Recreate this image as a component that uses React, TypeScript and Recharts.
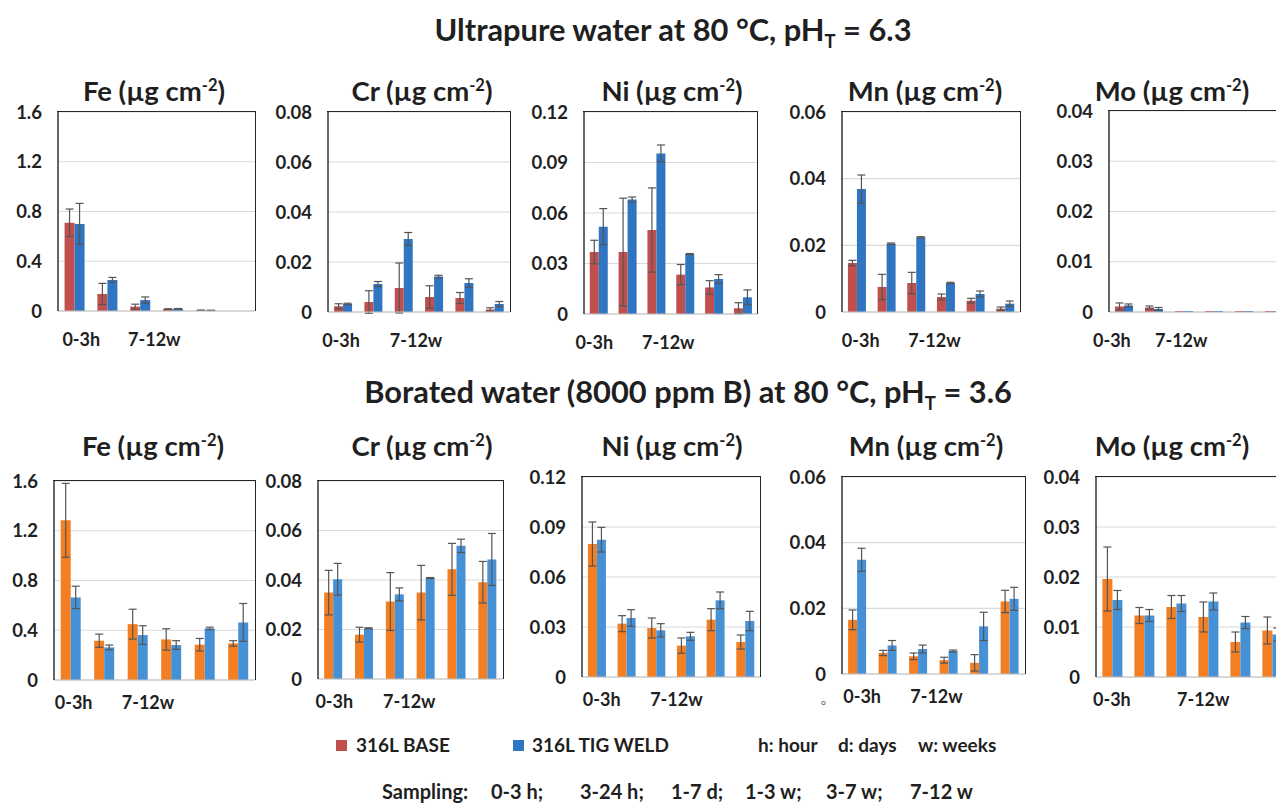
import { Bar, BarChart, CartesianGrid, ErrorBar, XAxis, YAxis } from 'recharts';

const categories = ['0-3 h', '3-24 h', '1-7 d', '1-3 w', '3-7 w', '7-12 w'];
// Excel only had room for two of the labels
const tickLabels = ['0-3h', '', '7-12w', '', '', ''];

// ultrapure water at 80 C, pH 6.3
const upFeBase = [0.71, 0.137, 0.035, 0.015, 0.006, 0];
const upFeBaseErr = [0.11, 0.085, 0.02, 0.003, 0.001, 0];
const upFeWeld = [0.7, 0.25, 0.088, 0.018, 0.005, 0];
const upFeWeldErr = [0.165, 0.02, 0.025, 0.002, 0.001, 0];

const upCrBase = [0.0023, 0.004, 0.0096, 0.006, 0.0056, 0.001];
const upCrBaseErr = [0.001, 0.0045, 0.01, 0.0045, 0.0022, 0.0007];
const upCrWeld = [0.0032, 0.0112, 0.0292, 0.0142, 0.0116, 0.0032];
const upCrWeldErr = [0.0003, 0.001, 0.0026, 0.0005, 0.0017, 0.001];

const upNiBase = [0.0368, 0.0368, 0.0499, 0.0234, 0.0158, 0.0034];
const upNiBaseErr = [0.007, 0.032, 0.025, 0.006, 0.004, 0.0033];
const upNiWeld = [0.0519, 0.068, 0.0954, 0.0356, 0.0208, 0.0099];
const upNiWeldErr = [0.0107, 0.0015, 0.005, 0.0003, 0.0026, 0.0044];

const upMnBase = [0.0147, 0.0075, 0.0087, 0.0045, 0.0034, 0.001];
const upMnBaseErr = [0.0008, 0.0038, 0.0032, 0.0009, 0.0007, 0.0005];
const upMnWeld = [0.0369, 0.0205, 0.0224, 0.0087, 0.0054, 0.0025];
const upMnWeldErr = [0.0042, 0.0002, 0.0002, 0.0002, 0.0009, 0.0008];

const upMoBase = [0.0011, 0.0009, 0.0002, 0.0002, 0.0002, 0.0002];
const upMoBaseErr = [0.0007, 0.0003, 0, 0, 0, 0];
const upMoWeld = [0.0013, 0.0006, 0.0002, 0.0002, 0.0002, 0.0002];
const upMoWeldErr = [0.0003, 0.0003, 0, 0, 0, 0];

// borated water (8000 ppm B) at 80 C, pH 3.6
const bwFeBase = [1.284, 0.316, 0.449, 0.326, 0.284, 0.294];
const bwFeBaseErr = [0.297, 0.053, 0.12, 0.086, 0.05, 0.022];
const bwFeWeld = [0.664, 0.262, 0.361, 0.281, 0.415, 0.463];
const bwFeWeldErr = [0.09, 0.019, 0.075, 0.035, 0.01, 0.152];

const bwCrBase = [0.0349, 0.0179, 0.0313, 0.0349, 0.0443, 0.0391];
const bwCrBaseErr = [0.009, 0.003, 0.0117, 0.011, 0.0105, 0.0084];
const bwCrWeld = [0.0403, 0.0205, 0.0342, 0.0408, 0.0538, 0.0483];
const bwCrWeldErr = [0.0064, 0.0002, 0.0026, 0.0002, 0.0027, 0.0105];

const bwNiBase = [0.0798, 0.032, 0.0294, 0.0188, 0.0344, 0.021];
const bwNiBaseErr = [0.0132, 0.0048, 0.006, 0.0046, 0.0066, 0.0042];
const bwNiWeld = [0.0824, 0.0354, 0.028, 0.0244, 0.046, 0.0336];
const bwNiWeldErr = [0.0074, 0.005, 0.004, 0.0024, 0.005, 0.0058];

const bwMnBase = [0.0165, 0.0064, 0.0054, 0.0042, 0.0034, 0.0221];
const bwMnBaseErr = [0.003, 0.0008, 0.001, 0.0009, 0.0025, 0.0034];
const bwMnWeld = [0.0348, 0.0087, 0.0076, 0.007, 0.0145, 0.0229];
const bwMnWeldErr = [0.0035, 0.0015, 0.0012, 0.0003, 0.0043, 0.0035];

const bwMoBase = [0.0196, 0.0123, 0.014, 0.012, 0.007, 0.0093];
const bwMoBaseErr = [0.0064, 0.0016, 0.0023, 0.003, 0.002, 0.0027];
const bwMoWeld = [0.0154, 0.0123, 0.0147, 0.0151, 0.0109, 0.0085];
const bwMoWeldErr = [0.0019, 0.0012, 0.0016, 0.0017, 0.0012, 0.0013];

const feTicks = [0, 0.4, 0.8, 1.2, 1.6];
const crTicks = [0, 0.02, 0.04, 0.06, 0.08];
const niTicks = [0, 0.03, 0.06, 0.09, 0.12];
const mnTicks = [0, 0.02, 0.04, 0.06];
const moTicks = [0, 0.01, 0.02, 0.03, 0.04];

const samplingLabels = ['Sampling:', '0-3 h;', '3-24 h;', '1-7 d;', '1-3 w;', '3-7 w;', '7-12 w'];
const unitLabels = ['h: hour', 'd: days', 'w: weeks'];

const FONT = "Lato, 'Open Sans', sans-serif";
const INK = '#1f1f1f';
const FRAME = '#262626';

type Series = { base: number[]; baseErr: number[]; weld: number[]; weldErr: number[] };
type Box = { left: number; top: number; width: number; height: number; titleX: number; labelDx: [number, number] };

const topColors = { base: '#c0504d', weld: '#2f75c2' };
const bottomColors = { base: '#f47e22', weld: '#4690d6' };

const topRow: { metal: string; ticks: number[]; s: Series; box: Box }[] = [
  { metal: 'Fe', ticks: feTicks, s: { base: upFeBase, baseErr: upFeBaseErr, weld: upFeWeld, weldErr: upFeWeldErr }, box: { left: 58, top: 112, width: 197, height: 199, titleX: 154, labelDx: [-12, -12] } },
  { metal: 'Cr', ticks: crTicks, s: { base: upCrBase, baseErr: upCrBaseErr, weld: upCrWeld, weldErr: upCrWeldErr }, box: { left: 328, top: 112, width: 182, height: 200, titleX: 422, labelDx: [-21, -14] } },
  { metal: 'Ni', ticks: niTicks, s: { base: upNiBase, baseErr: upNiBaseErr, weld: upNiWeld, weldErr: upNiWeldErr }, box: { left: 584, top: 112, width: 173, height: 202, titleX: 672, labelDx: [-23, -14] } },
  { metal: 'Mn', ticks: mnTicks, s: { base: upMnBase, baseErr: upMnBaseErr, weld: upMnWeld, weldErr: upMnWeldErr }, box: { left: 842, top: 112, width: 178, height: 200, titleX: 925, labelDx: [-15, -8] } },
  { metal: 'Mo', ticks: moTicks, s: { base: upMoBase, baseErr: upMoBaseErr, weld: upMoWeld, weldErr: upMoWeldErr }, box: { left: 1109, top: 111, width: 180, height: 201, titleX: 1172, labelDx: [-31, -29] } },
];

const bottomRow: { metal: string; ticks: number[]; s: Series; box: Box }[] = [
  { metal: 'Fe', ticks: feTicks, s: { base: bwFeBase, baseErr: bwFeBaseErr, weld: bwFeWeld, weldErr: bwFeWeldErr }, box: { left: 54, top: 481, width: 201, height: 199, titleX: 153, labelDx: [-16, -16] } },
  { metal: 'Cr', ticks: crTicks, s: { base: bwCrBase, baseErr: bwCrBaseErr, weld: bwCrWeld, weldErr: bwCrWeldErr }, box: { left: 318, top: 481, width: 185, height: 198, titleX: 422, labelDx: [-18, -12] } },
  { metal: 'Ni', ticks: niTicks, s: { base: bwNiBase, baseErr: bwNiBaseErr, weld: bwNiWeld, weldErr: bwNiWeldErr }, box: { left: 582, top: 477, width: 178, height: 200, titleX: 672, labelDx: [-14, -6] } },
  { metal: 'Mn', ticks: mnTicks, s: { base: bwMnBase, baseErr: bwMnBaseErr, weld: bwMnWeld, weldErr: bwMnWeldErr }, box: { left: 842, top: 477, width: 183, height: 197, titleX: 926, labelDx: [-14, -8] } },
  { metal: 'Mo', ticks: moTicks, s: { base: bwMoBase, baseErr: bwMoBaseErr, weld: bwMoWeld, weldErr: bwMoWeldErr }, box: { left: 1096, top: 477, width: 192, height: 200, titleX: 1172, labelDx: [-19, 1] } },
];

const Y_AXIS_W = 70;
const TOP_PAD = 14;

function MetalChart({ metal, ticks, s, box, colors, labelGap, titleY }: {
  metal: string; ticks: number[]; s: Series; box: Box;
  colors: { base: string; weld: string }; labelGap: number; titleY: number;
}) {
  const data = categories.map((cat, i) => ({
    cat,
    base: s.base[i],
    baseErr: s.baseErr[i],
    weld: s.weld[i],
    weldErr: s.weldErr[i],
  }));
  const max = ticks[ticks.length - 1];

  const renderTick = (props: any) => {
    const label = tickLabels[props.index];
    if (!label) return <g />;
    const dx = props.index === 0 ? box.labelDx[0] : box.labelDx[1];
    return (
      <text x={props.x + dx} y={props.y + labelGap} textAnchor="start" dominantBaseline="central"
        fill={INK} fontSize={18} fontWeight={700} fontFamily={FONT}>
        {label}
      </text>
    );
  };

  return (
    <>
      <div style={{
        position: 'absolute', left: box.titleX - 120, top: titleY - 18, width: 240, height: 36,
        lineHeight: '36px', textAlign: 'center', fontSize: 27.5, fontWeight: 700, color: INK, whiteSpace: 'nowrap',
      }}>
        {metal} (µg cm<sup style={{ fontSize: '0.6em', lineHeight: 0 }}>-2</sup>)
      </div>
      <div style={{ position: 'absolute', left: box.left - Y_AXIS_W, top: box.top - TOP_PAD }}>
        <BarChart width={Y_AXIS_W + box.width} height={TOP_PAD + box.height + 44} data={data}
          margin={{ top: TOP_PAD, right: 0, bottom: 0, left: 0 }} barCategoryGap="20%" barGap={0}>
          <CartesianGrid vertical={false} stroke="#d9d9d9" strokeWidth={1.2} />
          <XAxis dataKey="cat" height={44} interval={0} tickLine={false} tickSize={0} tickMargin={0}
            axisLine={{ stroke: '#c4c4c4', strokeWidth: 1.2 }} tick={renderTick} />
          <YAxis width={Y_AXIS_W} type="number" domain={[0, max]} ticks={ticks} allowDataOverflow interval={0}
            axisLine={{ stroke: FRAME, strokeWidth: 1.4 }} tickLine={false} tickSize={0} tickMargin={16}
            tick={{ fill: INK, fontSize: 18.5, fontWeight: 700, fontFamily: FONT }}
            tickFormatter={(v: number) => String(v)} />
          <Bar dataKey="base" fill={colors.base} isAnimationActive={false}>
            <ErrorBar dataKey="baseErr" width={4} stroke="#555" strokeWidth={1.2} direction="y" />
          </Bar>
          <Bar dataKey="weld" fill={colors.weld} isAnimationActive={false}>
            <ErrorBar dataKey="weldErr" width={4} stroke="#555" strokeWidth={1.2} direction="y" />
          </Bar>
        </BarChart>
      </div>
      {/* plot-area frame: top and right edges */}
      <div style={{
        position: 'absolute', left: box.left - 0.7, top: box.top - 0.7, width: box.width + 0.7, height: box.height,
        borderTop: `1.4px solid ${FRAME}`, borderRight: `1.4px solid ${FRAME}`, pointerEvents: 'none',
      }} />
    </>
  );
}

const centered = (cx: number, cy: number, size: number): React.CSSProperties => ({
  position: 'absolute', left: cx - 450, top: cy - 20, width: 900, height: 40, lineHeight: '40px',
  textAlign: 'center', fontSize: size, fontWeight: 700, color: INK, whiteSpace: 'nowrap',
});

const samplingX = [382, 491, 580, 671, 745, 826, 910];
const unitX = [758, 838, 918];

export default function App() {
  return (
    <div style={{
      position: 'absolute', left: 0, top: 0, width: 1276, height: 805, overflow: 'hidden',
      background: '#fff', fontFamily: FONT,
    }}>
      <div style={centered(673, 30, 30.8)}>
        Ultrapure water at 80 °C, pH<sub style={{ fontSize: '0.6em', lineHeight: 0 }}>T</sub> = 6.3
      </div>
      <div style={centered(688, 392, 30.8)}>
        Borated water (8000 ppm B) at 80 °C, pH<sub style={{ fontSize: '0.6em', lineHeight: 0 }}>T</sub> = 3.6
      </div>

      {topRow.map((p) => (
        <MetalChart key={'up' + p.metal} {...p} colors={topColors} labelGap={28} titleY={91} />
      ))}
      {bottomRow.map((p) => (
        <MetalChart key={'bw' + p.metal} {...p} colors={bottomColors} labelGap={22} titleY={446} />
      ))}

      <span style={{ position: 'absolute', left: 819, top: 693, fontSize: 14, color: '#777' }}>∘</span>

      <div style={{ position: 'absolute', left: 336, top: 740, width: 11, height: 11, background: topColors.base }} />
      <div style={{ position: 'absolute', left: 356, top: 733, lineHeight: '24px', fontSize: 19, fontWeight: 700, color: INK }}>316L BASE</div>
      <div style={{ position: 'absolute', left: 513, top: 740, width: 11, height: 11, background: topColors.weld }} />
      <div style={{ position: 'absolute', left: 532, top: 733, lineHeight: '24px', fontSize: 19, fontWeight: 700, color: INK }}>316L TIG WELD</div>
      {unitLabels.map((t, i) => (
        <div key={t} style={{ position: 'absolute', left: unitX[i], top: 733, lineHeight: '24px', fontSize: 19, fontWeight: 700, color: INK, whiteSpace: 'nowrap' }}>{t}</div>
      ))}
      {samplingLabels.map((t, i) => (
        <div key={t} style={{ position: 'absolute', left: samplingX[i], top: 779, lineHeight: '24px', fontSize: 20, fontWeight: 700, color: INK, whiteSpace: 'nowrap' }}>{t}</div>
      ))}
    </div>
  );
}
